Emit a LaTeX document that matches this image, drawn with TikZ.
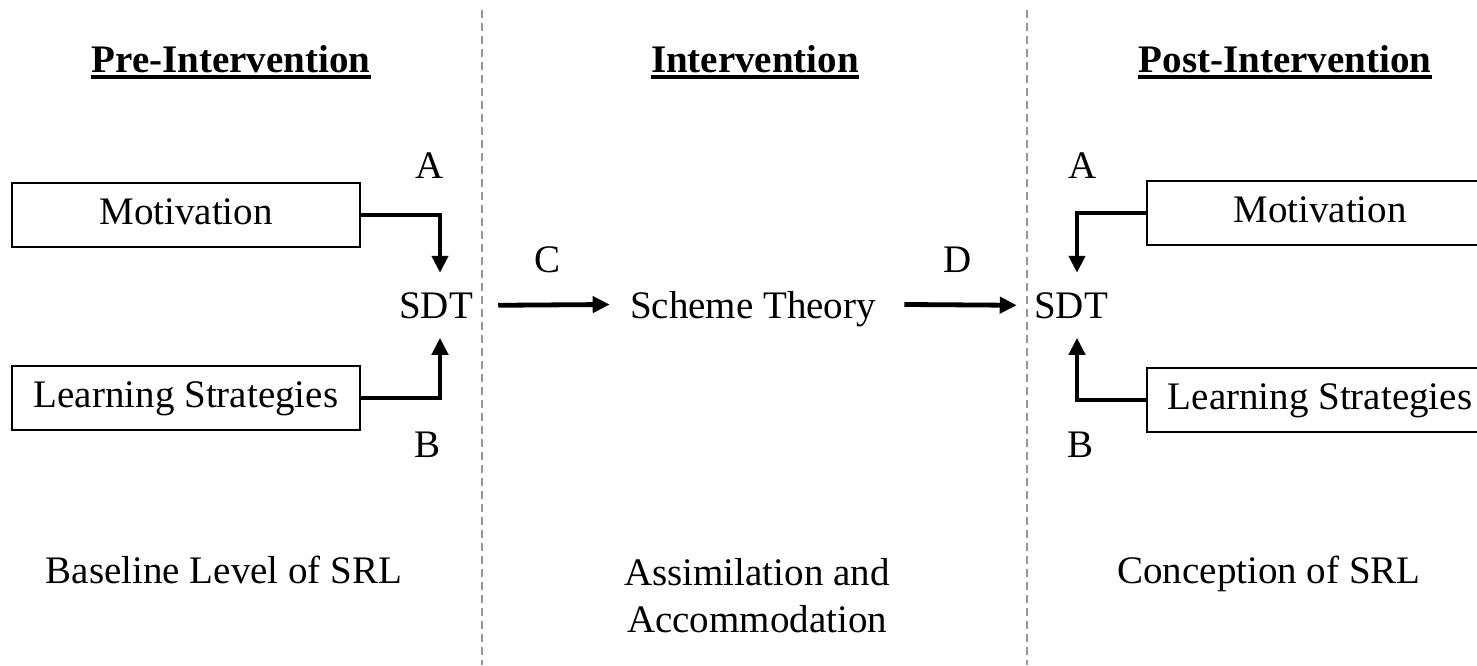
\documentclass[tikz,border=0pt]{standalone}
\usepackage{fontspec}
\setmainfont{Liberation Serif}
\usetikzlibrary{arrows.meta}
\definecolor{divgray}{RGB}{150,150,150}
\begin{document}
\begin{tikzpicture}[x=0.5pt,y=-0.5pt,
  font=\fontsize{19.5pt}{23.5pt}\selectfont,
  txt/.style={inner sep=0pt, anchor=base},
  head/.style={txt, font=\fontsize{19.5pt}{23.5pt}\selectfont\bfseries},
  ul/.style={line width=2.3pt},
  box/.style={draw, line width=1pt, inner sep=0pt, minimum height=32pt,
              text height=13.6pt, text depth=4.3pt},
  sdt/.style={anchor=base, inner xsep=0pt, inner ysep=9.5pt},
  link/.style={line width=2.4pt, -{Triangle[length=8.5pt,width=8pt]}},
  divider/.style={divgray, line width=0.8pt, dash pattern=on 4pt off 2.5pt}]
\useasboundingbox (0,0) rectangle (1477,665);
\clip (0,0) rectangle (1477,665);

% dividers
\draw[divider] (482,10) -- (482,665);
\draw[divider] (1027,10) -- (1027,665);

% headings
\node[head] (h1) at (231,72) {Pre-Intervention};
\node[head] (h2) at (755,72) {Intervention};
\node[head] (h3) at (1285,72) {Post-Intervention};
\draw[ul] ([yshift=-2.5pt]h1.base west) -- ([yshift=-2.5pt]h1.base east);
\draw[ul] ([yshift=-2.5pt]h2.base west) -- ([yshift=-2.5pt]h2.base east);
\draw[ul] ([yshift=-2.5pt]h3.base west) -- ([yshift=-2.5pt]h3.base east);

% left column
\node[box, minimum width=174pt] (motL) at (186,215) {Motivation};
\node[box, minimum width=174pt] (lsL) at (186,398) {Learning Strategies};
\node[sdt] (sdtL) at (436,318) {SDT};
\node[txt] (aL) at (430,178) {A};
\node[txt] (bL) at (428,457) {B};
\draw[link] (motL.east) -| ([xshift=2pt]sdtL.north);
\draw[link] (lsL.east) -| ([xshift=2pt]sdtL.south);

% middle
\node[txt, text depth=0pt] (sch) at (753,318) {Scheme Theory};
\node[txt] (c) at (547,272) {C};
\node[txt] (d) at (958,272) {D};

% right column
\node[box, minimum width=173pt] (motR) at (1320,213) {Motivation};
\node[box, minimum width=173pt] (lsR) at (1320,400) {Learning Strategies};
\node[sdt] (sdtR) at (1071,318) {SDT};
\node[txt] (aR) at (1083,178) {A};
\node[txt] (bR) at (1080,457) {B};
\draw[link] (motR.west) -| ([xshift=3pt]sdtR.north);
\draw[link] (lsR.west) -| ([xshift=3pt]sdtR.south);

\draw[link] ([xshift=12.5pt]sdtL.east) -- ([xshift=-10pt]sch.west);
\draw[link] ([xshift=14pt]sch.east) -- ([xshift=-8.5pt]sdtR.west);

% bottom texts
\node[txt] (b1) at (224,583) {Baseline Level of SRL};
\node[txt, align=center] (b2) at (757,632) {Assimilation and\\Accommodation};
\node[txt] (b3) at (1269,583) {Conception of SRL};
\end{tikzpicture}
\end{document}
